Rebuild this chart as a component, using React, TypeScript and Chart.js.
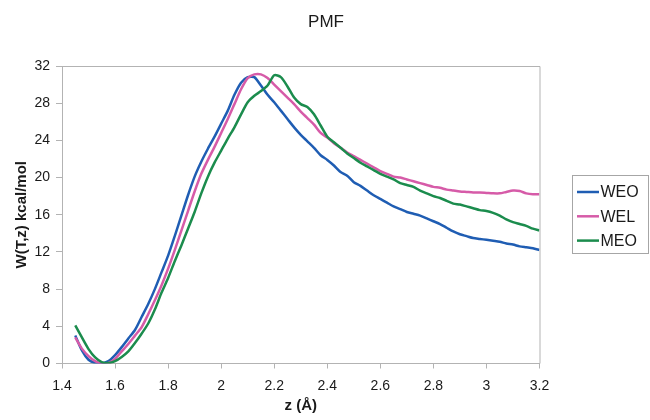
import React, { useEffect, useRef } from "react";
import { Chart, registerables } from "chart.js";

Chart.register(...registerables);

const FONT = "'Liberation Sans', Arial, sans-serif";

const chartTitle = "PMF";
const xAxisTitle = "z (Å)";
const yAxisTitle = "W(T,z) kcal/mol";

const xTickValues = [1.4, 1.6, 1.8, 2.0, 2.2, 2.4, 2.6, 2.8, 3.0, 3.2];
const yTickValues = [0, 4, 8, 12, 16, 20, 24, 28, 32];

const seriesNames = ["WEO", "WEL", "MEO"];
const seriesColors = ["#1f5db3", "#d65ba8", "#1b8c4d"];

const zValues = [
  1.45, 1.475, 1.5, 1.525, 1.55, 1.575, 1.6, 1.625, 1.65, 1.675,
  1.7, 1.725, 1.75, 1.775, 1.8, 1.825, 1.85, 1.875, 1.9, 1.925,
  1.95, 1.975, 2.0, 2.025, 2.05, 2.075, 2.1, 2.125, 2.15, 2.175,
  2.2, 2.225, 2.25, 2.275, 2.3, 2.325, 2.35, 2.375, 2.4, 2.425,
  2.45, 2.475, 2.5, 2.525, 2.55, 2.575, 2.6, 2.625, 2.65, 2.675,
  2.7, 2.725, 2.75, 2.775, 2.8, 2.825, 2.85, 2.875, 2.9, 2.925,
  2.95, 2.975, 3.0, 3.025, 3.05, 3.075, 3.1, 3.125, 3.15, 3.175, 3.2,
];

const weo = [
  3.0, 1.4, 0.4, 0.05, 0.0, 0.25, 0.9, 1.76, 2.7, 3.6,
  5.0, 6.4, 8.0, 9.8, 11.6, 13.7, 15.9, 18.1, 20.1, 21.7,
  23.1, 24.4, 25.8, 27.2, 28.9, 30.2, 30.8, 30.8, 29.9, 28.9,
  28.1, 27.2, 26.3, 25.4, 24.6, 23.9, 23.2, 22.4, 21.9, 21.3,
  20.6, 20.2, 19.5, 19.1, 18.6, 18.1, 17.7, 17.3, 16.9, 16.6,
  16.3, 16.1, 15.9, 15.6, 15.3, 15.0, 14.6, 14.2, 13.9, 13.7,
  13.5, 13.4, 13.3, 13.2, 13.1, 12.9, 12.8, 12.6, 12.5, 12.4, 12.2,
];

const wel = [
  2.8, 1.6, 0.8, 0.25, 0.0, 0.05, 0.5, 1.3, 2.1, 3.0,
  3.9, 5.3, 6.8, 8.4, 10.2, 12.2, 14.3, 16.4, 18.5, 20.4,
  21.9, 23.3, 24.8, 26.3, 27.9, 29.5, 30.7, 31.1, 31.1, 30.7,
  30.0, 29.3, 28.6, 27.9, 27.1, 26.4, 25.7, 24.8, 24.3, 23.7,
  23.2, 22.7, 22.3, 21.9, 21.5, 21.1, 20.7, 20.4, 20.1, 20.0,
  19.8, 19.6, 19.4, 19.2, 19.0, 18.9, 18.7, 18.6, 18.5, 18.45,
  18.4, 18.4, 18.35, 18.3, 18.3, 18.45, 18.6, 18.55, 18.3, 18.2, 18.2,
];

const meo = [
  4.1, 2.8, 1.55, 0.65, 0.15, 0.05, 0.25, 0.7, 1.3, 2.2,
  3.2, 4.3, 5.8, 7.6, 9.2, 11.0, 12.7, 14.5, 16.3, 18.3,
  20.1, 21.6, 22.9, 24.2, 25.4, 26.8, 28.1, 28.8, 29.3, 29.9,
  31.0, 30.8, 29.8, 28.6, 27.9, 27.6, 26.8, 25.6, 24.4, 23.8,
  23.2, 22.6, 22.1, 21.6, 21.2, 20.8, 20.4, 20.1, 19.8, 19.4,
  19.2, 19.0, 18.6, 18.3, 18.0, 17.8, 17.5, 17.2, 17.1, 16.9,
  16.7, 16.5, 16.4, 16.2, 15.9, 15.5, 15.2, 15.0, 14.8, 14.5, 14.3,
];

const seriesValues = [weo, wel, meo];

const framePlugin = {
  id: "frameTitleLegend",
  afterDraw(chart: any) {
    const ctx = chart.ctx;
    const a = chart.chartArea;
    ctx.save();
    // plot frame (top and right)
    ctx.strokeStyle = "#b3b3b3";
    ctx.lineWidth = 1;
    ctx.beginPath();
    ctx.moveTo(a.left, a.top + 0.5);
    ctx.lineTo(a.right + 0.5, a.top + 0.5);
    ctx.lineTo(a.right + 0.5, a.bottom);
    ctx.stroke();

    // title
    ctx.fillStyle = "#1a1a1a";
    ctx.font = `17px ${FONT}`;
    ctx.textAlign = "center";
    ctx.textBaseline = "middle";
    ctx.fillText(chartTitle, 326, 22);

    // legend
    const bx = 572.5, by = 175.5, bw = 76, bh = 78;
    ctx.strokeStyle = "#a6a6a6";
    ctx.lineWidth = 1;
    ctx.strokeRect(bx, by, bw, bh);
    ctx.font = `16px ${FONT}`;
    ctx.textAlign = "left";
    chart.data.datasets.forEach((ds: any, i: number) => {
      const y = 192 + i * 24.3;
      ctx.strokeStyle = ds.borderColor;
      ctx.lineWidth = 2.5;
      ctx.beginPath();
      ctx.moveTo(577, y);
      ctx.lineTo(599, y);
      ctx.stroke();
      ctx.fillStyle = "#1a1a1a";
      ctx.fillText(ds.label, 600.5, y + 1);
    });
    ctx.restore();
  },
};

export default function App() {
  const ref = useRef<HTMLCanvasElement | null>(null);

  useEffect(() => {
    if (!ref.current) return;
    const datasets = seriesNames.map((name, i) => ({
      label: name,
      data: zValues.map((z, k) => ({ x: z, y: seriesValues[i][k] })),
      borderColor: seriesColors[i],
      backgroundColor: seriesColors[i],
      borderWidth: 2.5,
      pointRadius: 0,
      tension: 0.25,
      fill: false,
      order: 3 - i,
    }));
    const chart = new Chart(ref.current, {
      type: "line",
      data: { datasets },
      options: {
        responsive: false,
        animation: false,
        layout: { padding: { left: 0, top: 66, right: 110.5, bottom: 0 } },
        plugins: {
          legend: { display: false },
          title: { display: false },
          tooltip: { enabled: false },
        },
        scales: {
          x: {
            type: "linear",
            min: 1.4,
            max: 3.2,
            afterBuildTicks: (s: any) => {
              s.ticks = xTickValues.map((v) => ({ value: v }));
            },
            afterFit: (s: any) => {
              s.height = 56.5;
            },
            ticks: {
              font: { family: FONT, size: 14 },
              color: "#1a1a1a",
              padding: 9,
              maxRotation: 0,
              autoSkip: false,
              callback: (v: any) => String(Number(Number(v).toFixed(1))),
            },
            grid: {
              drawOnChartArea: false,
              drawTicks: true,
              tickLength: 5,
              color: "#b3b3b3",
            },
            border: { display: true, color: "#b3b3b3" },
            title: {
              display: true,
              text: xAxisTitle,
              font: { family: FONT, size: 15, weight: "bold" },
              color: "#1a1a1a",
              padding: { top: 0, bottom: 5 },
            },
          },
          y: {
            type: "linear",
            min: 0,
            max: 32,
            afterBuildTicks: (s: any) => {
              s.ticks = yTickValues.map((v) => ({ value: v }));
            },
            afterFit: (s: any) => {
              s.width = 62;
            },
            ticks: {
              font: { family: FONT, size: 14 },
              color: "#1a1a1a",
              padding: 6,
              autoSkip: false,
            },
            grid: {
              drawOnChartArea: false,
              drawTicks: true,
              tickLength: 6,
              color: "#b3b3b3",
            },
            border: { display: true, color: "#b3b3b3" },
            title: {
              display: true,
              text: yAxisTitle,
              font: { family: FONT, size: 15, weight: "bold" },
              color: "#1a1a1a",
              padding: { top: 13, bottom: 0 },
            },
          },
        },
      },
      plugins: [framePlugin],
    } as any);
    return () => chart.destroy();
  }, []);

  return (
    <div style={{ position: "absolute", left: 0, top: 0, width: 650, height: 420, background: "#fff" }}>
      <canvas ref={ref} width={650} height={420} style={{ display: "block", width: 650, height: 420 }} />
    </div>
  );
}
